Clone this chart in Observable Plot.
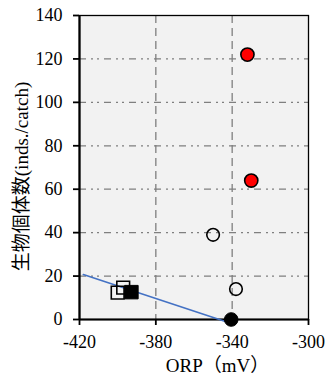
<!DOCTYPE html>
<html>
<head>
<meta charset="utf-8">
<script src="https://cdn.jsdelivr.net/npm/d3@7"></script>
<script src="https://cdn.jsdelivr.net/npm/@observablehq/plot@0.6"></script>
<style>
  html, body { margin: 0; padding: 0; background: #fff; }
  #chart svg { display: block; }
</style>
</head>
<body>
<div id="chart"></div>
<script>
// ---- data ----
const xTicks = [-420, -380, -340, -300];
const yTicks = [0, 20, 40, 60, 80, 100, 120, 140];
const xGrid = [-380, -340];
const yGrid = [20, 40, 60, 80, 100, 120];

const redCircles = [{x: -332, y: 122}, {x: -330, y: 64}];
const openCircles = [{x: -350, y: 39}, {x: -338, y: 14}];
const filledCircles = [{x: -340.5, y: 0}];
const openSquares = [{x: -400, y: 12.4}, {x: -397.1, y: 14.7}];
const filledSquares = [{x: -392.8, y: 12.6}];
const trendLine = [{x: -418, y: 20.7}, {x: -340, y: -2}];

const yLabel = "生物個体数(inds./catch)";
const xLabel = "ORP（mV）";

const font = "'Liberation Serif', 'Noto Sans CJK JP', serif";

const chart = Plot.plot({
  width: 328,
  height: 385,
  marginLeft: 79,
  marginRight: 20,
  marginTop: 15,
  marginBottom: 66,
  style: {fontFamily: font, fontSize: "18px", color: "#000", background: "#fff", overflow: "visible"},
  x: {domain: [-420, -300], axis: null},
  y: {domain: [0, 140], axis: null},
  marks: [
    Plot.frame({fill: "#f2f2f2", stroke: null}),
    Plot.gridX(xGrid, {stroke: "#7f7f7f", strokeOpacity: 1, strokeWidth: 1.3, strokeDasharray: "8,5"}),
    Plot.gridY(yGrid, {stroke: "#7f7f7f", strokeOpacity: 1, strokeWidth: 1.3, strokeDasharray: "7,5,2,4,2,5"}),
    Plot.frame({stroke: "#000", strokeWidth: 1.3}),
    Plot.ruleX([-420], {stroke: "#000", strokeWidth: 2.2}),
    Plot.ruleY([0], {stroke: "#000", strokeWidth: 2.2}),
    Plot.axisY(yTicks, {tickSize: 6, tickPadding: 11, strokeWidth: 1.8, fontSize: 18, label: null, tickFormat: d => String(d)}),
    Plot.axisX(xTicks, {tickSize: 6, tickPadding: 10, strokeWidth: 1.8, fontSize: 18, label: null, tickFormat: d => String(d)}),
    Plot.line(trendLine, {x: "x", y: "y", stroke: "#4472c4", strokeWidth: 1.6, clip: false}),
    Plot.dot(openSquares, {x: "x", y: "y", symbol: "square", r: 7.2, fill: "none", stroke: "#000", strokeWidth: 1.6}),
    Plot.dot(filledSquares, {x: "x", y: "y", symbol: "square", r: 7.6, fill: "#000", stroke: "#000", strokeWidth: 1}),
    Plot.dot(openCircles, {x: "x", y: "y", r: 6.3, fill: "none", stroke: "#000", strokeWidth: 1.6}),
    Plot.dot(filledCircles, {x: "x", y: "y", r: 6.8, fill: "#000", stroke: "#000", strokeWidth: 1}),
    Plot.dot(redCircles, {x: "x", y: "y", r: 6.6, fill: "#ff0000", stroke: "#000", strokeWidth: 1.6}),
    Plot.text([xLabel], {frameAnchor: "bottom", text: d => d, textAnchor: "middle", dx: 23.5, dy: 52, fontSize: 19, fill: "#000"}),
    Plot.text([yLabel], {frameAnchor: "left", text: d => d, textAnchor: "middle", dx: -58, dy: 9, rotate: -90, fontSize: 19, fill: "#000"})
  ]
});
document.getElementById("chart").appendChild(chart);
</script>
</body>
</html>
